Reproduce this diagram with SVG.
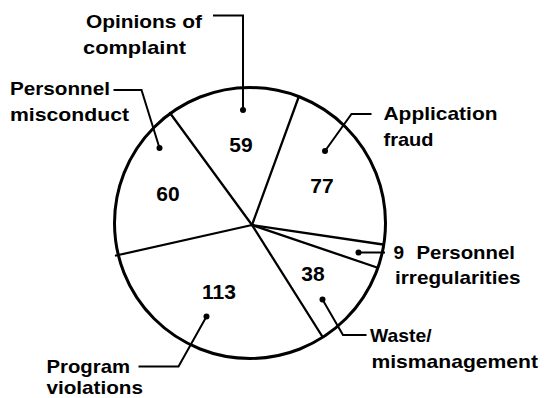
<svg xmlns="http://www.w3.org/2000/svg" width="551" height="398" viewBox="0 0 551 398">
<style>
.lbl{font-family:"Liberation Sans",Arial,Helvetica,sans-serif;font-weight:700;font-size:19px;fill:#000}
.num{font-family:"Liberation Sans",Arial,Helvetica,sans-serif;font-weight:700;font-size:21px;fill:#000;text-anchor:middle}
.div{stroke:#000;stroke-width:2.3;fill:none;stroke-linecap:round}
.ldr{stroke:#000;stroke-width:2;fill:none;stroke-linejoin:miter}
.dot{fill:#000}
</style>
<rect width="551" height="398" fill="#fff"/>
<g id="pie">
<circle cx="250" cy="223" r="135.5" fill="none" stroke="#000" stroke-width="3"/>
<line class="div" x1="252" y1="225" x2="170" y2="113"/>
<line class="div" x1="252" y1="225" x2="298.5" y2="97.5"/>
<line class="div" x1="252" y1="225" x2="383" y2="244.5"/>
<line class="div" x1="252" y1="225" x2="377" y2="267.5"/>
<line class="div" x1="252" y1="225" x2="322" y2="336"/>
<line class="div" x1="252" y1="225" x2="116" y2="255.5"/>
</g>
<g id="opinions">
<text class="lbl" x="86" y="28" textLength="116" lengthAdjust="spacingAndGlyphs">Opinions of</text>
<text class="lbl" x="83" y="53.5" textLength="103" lengthAdjust="spacingAndGlyphs">complaint</text>
<text class="num" x="241" y="151.5">59</text>
</g>
<g id="personnel-misconduct">
<text class="lbl" x="10" y="95" textLength="100" lengthAdjust="spacingAndGlyphs">Personnel</text>
<text class="lbl" x="10" y="121" textLength="119" lengthAdjust="spacingAndGlyphs">misconduct</text>
<text class="num" x="168" y="200.5">60</text>
</g>
<g id="application-fraud">
<text class="lbl" x="383.5" y="119.5" textLength="114" lengthAdjust="spacingAndGlyphs">Application</text>
<text class="lbl" x="383.5" y="146" textLength="50" lengthAdjust="spacingAndGlyphs">fraud</text>
<text class="num" x="322" y="192.5">77</text>
</g>
<g id="personnel-irregularities">
<text class="lbl" x="393.5" y="258.5">9</text>
<text class="lbl" x="416.5" y="258.5" textLength="98.5" lengthAdjust="spacingAndGlyphs">Personnel</text>
<text class="lbl" x="395" y="283.5" textLength="125.5" lengthAdjust="spacingAndGlyphs">irregularities</text>
</g>
<g id="waste">
<text class="lbl" x="370" y="341.5" textLength="61.5" lengthAdjust="spacingAndGlyphs">Waste/</text>
<text class="lbl" x="371.5" y="367.5" textLength="166.5" lengthAdjust="spacingAndGlyphs">mismanagement</text>
<text class="num" x="313" y="281">38</text>
</g>
<g id="program">
<text class="lbl" x="46.5" y="373" textLength="83.5" lengthAdjust="spacingAndGlyphs">Program</text>
<text class="lbl" x="46.5" y="393.5" textLength="96.5" lengthAdjust="spacingAndGlyphs">violations</text>
<text class="num" x="219" y="298.5">113</text>
</g>
<g id="leaders">
<polyline class="ldr" points="213,15.5 243,15.5 243,110"/>
<circle class="dot" cx="243" cy="110" r="3"/>
<polyline class="ldr" points="113.5,90 141.5,90 159.5,148"/>
<circle class="dot" cx="159.5" cy="148" r="3"/>
<polyline class="ldr" points="371.5,114 351.5,114 325,151"/>
<circle class="dot" cx="325" cy="151" r="3"/>
<polyline class="ldr" points="358.5,252.5 385,252.5"/>
<circle class="dot" cx="358.5" cy="252.5" r="3"/>
<polyline class="ldr" points="322.5,299.5 343,335 366.5,335"/>
<circle class="dot" cx="322.5" cy="299.5" r="3"/>
<polyline class="ldr" points="206.5,316.5 178.5,366.5 138.5,366.5"/>
<circle class="dot" cx="206.5" cy="316.5" r="3"/>
</g>
</svg>
